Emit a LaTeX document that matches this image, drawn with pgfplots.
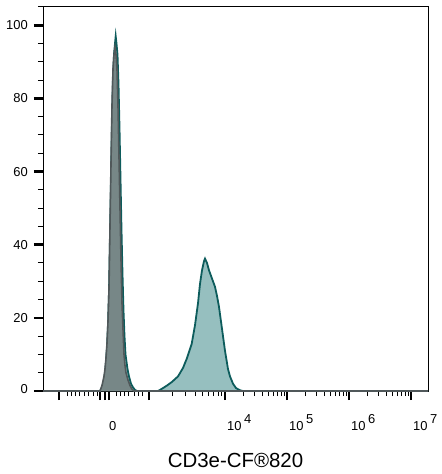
\documentclass[border=0pt]{standalone}
\usepackage{pgfplots}
\pgfplotsset{compat=1.18}
\usepackage{fontspec}
\setmainfont{Liberation Sans}
\definecolor{tealfill}{HTML}{96BFBF}
\definecolor{tealline}{HTML}{0D5C5C}
\definecolor{grayfill}{HTML}{778787}
\definecolor{grayline}{HTML}{50585A}
\newcommand{\tp}[1]{10\hspace{2.5bp}\raisebox{7bp}{\fontsize{13}{13}\selectfont #1}}
\begin{document}
\begin{tikzpicture}
\useasboundingbox (-43bp,-83bp) rectangle (399bp,391bp);
\begin{axis}[
  at={(0,0)}, anchor=south west,
  scale only axis, width=385bp, height=384bp,
  xmin=43, xmax=428, ymin=0, ymax=105,
  axis line style={line width=1bp},
  tick pos=left, tick align=outside,
  /pgf/number format/assume math mode=true,
  xtick={59,100,105,109,149,225,287,349,411},
  xticklabels={,,\hspace*{2bp}0,,,\tp{4},\tp{5},\tp{6},\tp{7}},
  minor xtick={67,71,75,79,84,88,93,97,116,120,124,128,134,138,142,172,185,195,202,208,213,218,221,243.7,254.6,262.3,268.3,273.2,277.4,281.0,284.2,305.7,316.6,324.3,330.3,335.2,339.4,343.0,346.2,367.7,378.6,386.3,392.3,397.2,401.4,405.0,408.2},
  ytick={0,20,40,60,80,100},
  yticklabels={\raisebox{5bp}{0},20,40,60,80,100},
  minor ytick={5,10,15,25,30,35,45,50,55,65,70,75,85,90,95,105},
  major tick length=9bp, minor tick length=5bp,
  every major tick/.append style={line width=2.6bp, black},
  every minor tick/.append style={line width=1bp, black},
  xticklabel style={font=\fontsize{13}{13}\selectfont, anchor=base west, inner sep=0pt, xshift=2bp, yshift=-30bp},
  yticklabel style={font=\fontsize{13}{13}\selectfont, anchor=east, inner sep=0pt, xshift=-6bp},
  xlabel={CD3e-CF®820},
  xlabel style={font=\fontsize{20.5}{24}\selectfont, at={(axis description cs:0.5,0)}, anchor=base, yshift=-76bp},
]
\addplot[draw=tealline, line width=1.8bp, fill=tealfill] coordinates {
(43,0) (100,0) (102,1) (104,3) (105,5) (106,8) (107,12) (108,18) (109,27) (110,42) (111,58) (112,74) (113,86) (114,92) (115,95) (115.7,97) (116.5,95) (117.5,92) (118.5,84) (119.5,72) (120.5,58) (121.5,44) (122.5,32) (123.5,22) (124.5,15) (125.5,10) (126.5,8) (127.5,6) (129,4) (131,2) (133,1) (135,0.3) (137,0) (158,0) (160,0.3) (163,0.8) (167,1.5) (172,2.5) (178,4) (183,6.3) (187,9) (191.7,12.9) (195,18) (198,24) (200,29.3) (202,33) (204,35.5) (205,36.2) (207,35) (209,33) (211,31.5) (213,30) (215,28.5) (217,26) (219,23) (221,19) (223,15) (225,11) (228,6) (230,4) (233,2) (236,0.8) (240,0.2) (243,0) (428,0)
};
\addplot[draw=grayline, line width=1.6bp, fill=grayfill] coordinates {
(43,0) (100,0) (102,1.5) (104,4) (105,6) (106,9) (107,13) (108,19) (109,28) (110,45) (111,62) (112,78) (113,88) (114,92) (115,94) (116,92) (117,88) (118,78) (119,64) (120,50) (121,36) (122,24) (123,17) (124,10) (125,7) (126,5) (127,4) (128,3) (130,1.5) (132,0.5) (134,0) (428,0)
};
\end{axis}
\end{tikzpicture}
\end{document}
